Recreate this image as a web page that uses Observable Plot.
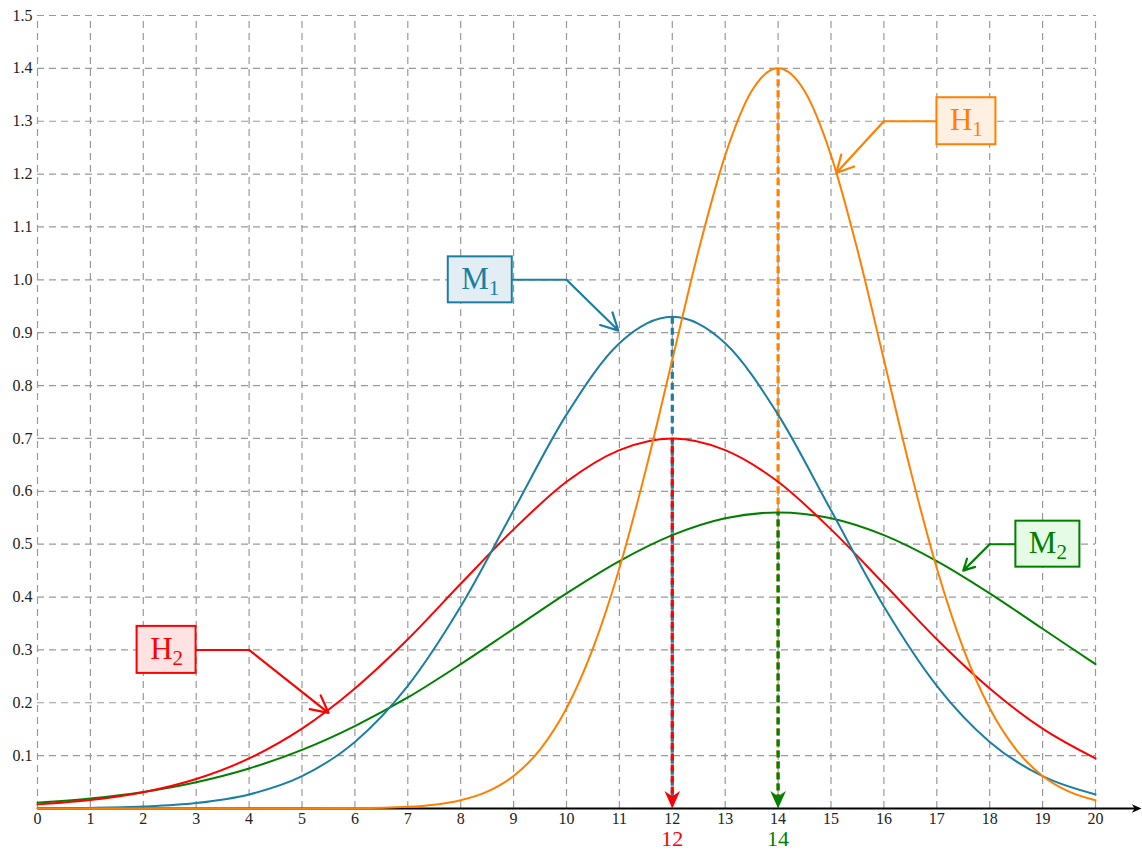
<!DOCTYPE html>
<html><head><meta charset="utf-8">
<script src="https://cdn.jsdelivr.net/npm/d3@7"></script>
<script src="https://cdn.jsdelivr.net/npm/@observablehq/plot@0.6"></script>
<style>body{margin:0;background:#fff}</style>
</head><body><div id="chart"></div>
<script>
// ---- data ----
const xs = [0,1,2,3,4,5,6,7,8,9,10,11,12,13,14,15,16,17,18,19,20];
const M1 = [0.0003,0.0011,0.0036,0.0103,0.0266,0.0611,0.126,0.232,0.382,0.564,0.745,0.880,0.930,0.880,0.745,0.564,0.382,0.232,0.126,0.0611,0.0266];
const H2 = [0.0078,0.016,0.0308,0.0557,0.0947,0.151,0.227,0.320,0.425,0.528,0.618,0.678,0.700,0.678,0.618,0.528,0.425,0.320,0.227,0.151,0.0947];
const M2 = [0.0111,0.0191,0.0314,0.0498,0.0758,0.111,0.156,0.210,0.273,0.340,0.407,0.468,0.517,0.549,0.560,0.549,0.517,0.468,0.407,0.340,0.273];
const H1x = [0,1,2,3,4,5,6,7,7.5,8,8.5,9,9.5,10,10.5,11,11.5,12,12.5,13,13.5,14,14.5,15,15.5,16,16.5,17,17.5,18,18.5,19,19.5,20];
const H1 = [0,0,0,0,0,0.0001,0.0005,0.0031,0.0071,0.0156,0.0319,0.0615,0.1114,0.1895,0.3028,0.4545,0.641,0.849,1.0567,1.2355,1.357,1.4,1.357,1.2355,1.0567,0.849,0.641,0.4545,0.3028,0.1895,0.1114,0.0615,0.0319,0.0156];
const xTicks = xs;
const yTicks = [0.1,0.2,0.3,0.4,0.5,0.6,0.7,0.8,0.9,1.0,1.1,1.2,1.3,1.4,1.5];
const seriesNames = ["M", "H", "M", "H"];
const seriesSubs = ["1", "1", "2", "2"];
// annotation anchors (label box centre, elbow, arrow tip)
const labelPos = [[8.37,1.0],[17.56,1.3],[19.1,0.5],[2.44,0.3]];
const elbowPos = [[10,1.0],[16,1.3],[18,0.5],[4,0.3]];
const tipPos = [[10.98,0.904],[15.1,1.202],[17.5,0.45],[5.5,0.181]];
const peaks = [{x:12, top:0.93, low:0.70, label:"12"}, {x:14, top:1.40, low:0.56, label:"14"}];
const axisEnd = 20.87;

// ---- styles ----
const BLUE = "#1a7fa2", ORANGE = "#ff8000", RED = "#ff0000", GREEN = "#008000";
const colors = [BLUE, ORANGE, GREEN, RED];
const fills = ["#e2eef3", "#fff0e2", "#e5fbe5", "#ffe3e3"];

// stealth-like arrowhead symbol, tip at the origin, pointing down
const stealth = {
  draw(ctx, size) {
    const s = Math.sqrt(size / Math.PI);
    ctx.moveTo(0, 0);
    ctx.lineTo(-1.2 * s, -2.7 * s);
    ctx.lineTo(0, -1.9 * s);
    ctx.lineTo(1.2 * s, -2.7 * s);
    ctx.closePath();
  }
};

const toRows = (X, Y) => X.map((x, i) => ({x, y: Y[i]}));
const labels = seriesNames.map((n, i) => ({
  name: n, sub: seriesSubs[i], x: labelPos[i][0], y: labelPos[i][1],
  color: colors[i], fill: fills[i]
}));
const legs = labels.map((l, i) => ({k: i, x1: l.x, y1: l.y, x2: elbowPos[i][0], y2: elbowPos[i][1]}));
const heads = labels.map((l, i) => ({k: i, x1: elbowPos[i][0], y1: elbowPos[i][1], x2: tipPos[i][0], y2: tipPos[i][1]}));

const dashV = "7,4";
const grid = {stroke: "#999", strokeWidth: 1.2, strokeDasharray: "7,5"};
const plot = Plot.plot({
  width: 1142, height: 855,
  marginLeft: 37, marginRight: 47, marginTop: 15, marginBottom: 47,
  x: {domain: [0, 20]},
  y: {domain: [0, 1.5]},
  style: {fontFamily: "'Liberation Serif', 'Times New Roman', serif", fontSize: "16px", background: "#fff"},
  marks: [
    Plot.ruleX(xTicks, {y1: 0, y2: 1.5, ...grid}),
    Plot.ruleY(yTicks, {x1: 0, x2: 20, ...grid}),
    Plot.axisX({ticks: xTicks, tickSize: 0, tickPadding: 4, fontSize: 16, tickFormat: d => String(d), color: "#222", label: null}),
    Plot.axisY({ticks: yTicks, tickSize: 0, tickPadding: 5, fontSize: 16, tickFormat: d => d.toFixed(1), color: "#222", label: null}),
    Plot.link([{a: 0, b: axisEnd - 0.1}], {x1: "a", x2: "b", y1: 0, y2: 0, stroke: "black", strokeWidth: 2}),
    Plot.dot([{a: axisEnd}], {x: "a", y: 0, symbol: stealth, r: 3.6, rotate: -90, fill: "black", stroke: "none"}),
    // peak drop lines
    Plot.link(peaks.slice(0,1), {x1: "x", x2: "x", y1: "top", y2: 0.01, stroke: BLUE, strokeWidth: 3.2, strokeDasharray: dashV}),
    Plot.link(peaks.slice(0,1), {x1: "x", x2: "x", y1: "low", y2: 0.02, stroke: RED, strokeWidth: 3.2, strokeDasharray: dashV, strokeDashoffset: 4}),
    Plot.link(peaks.slice(1), {x1: "x", x2: "x", y1: "top", y2: 0.01, stroke: ORANGE, strokeWidth: 3.2, strokeDasharray: dashV}),
    Plot.link(peaks.slice(1), {x1: "x", x2: "x", y1: "low", y2: 0.02, stroke: GREEN, strokeWidth: 3.2, strokeDasharray: dashV, strokeDashoffset: 4}),
    // curves
    Plot.line(toRows(xs, M2), {x: "x", y: "y", stroke: GREEN, strokeWidth: 2, curve: "monotone-x"}),
    Plot.line(toRows(xs, H2), {x: "x", y: "y", stroke: RED, strokeWidth: 2, curve: "monotone-x"}),
    Plot.line(toRows(xs, M1), {x: "x", y: "y", stroke: BLUE, strokeWidth: 2, curve: "monotone-x"}),
    Plot.line(toRows(H1x, H1), {x: "x", y: "y", stroke: ORANGE, strokeWidth: 2, curve: "monotone-x"}),
    Plot.dot(peaks, {x: "x", y: 0, symbol: stealth, r: 6.5, fill: d => d.x === 12 ? RED : GREEN, stroke: "none"}),
    // connectors
    Plot.link(legs, {x1: "x1", y1: "y1", x2: "x2", y2: "y2", stroke: d => colors[d.k], strokeWidth: 2}),
    Plot.arrow(heads, {x1: "x1", y1: "y1", x2: "x2", y2: "y2", stroke: d => colors[d.k], strokeWidth: 2.2, headLength: 13, headAngle: 55}),
    // label boxes
    Plot.rect(labels.filter(d => d.name === "M"), {x1: "x", x2: "x", y1: "y", y2: "y", insetLeft: -32, insetRight: -32, insetTop: -23, insetBottom: -23, fill: "fill", stroke: "color", strokeWidth: 2}),
    Plot.rect(labels.filter(d => d.name === "H"), {x1: "x", x2: "x", y1: "y", y2: "y", insetLeft: -29.5, insetRight: -29.5, insetTop: -23.5, insetBottom: -23.5, fill: "fill", stroke: "color", strokeWidth: 2}),
    Plot.text(labels, {x: "x", y: "y", text: "name", fill: "color", fontSize: 31, dy: -1,
      render: (index, scales, values, dimensions, context, next) => {
        const g = next(index, scales, values, dimensions, context);
        d3.select(g).selectAll("text").each(function(i) {
          d3.select(this).append("tspan").attr("font-size", 21).attr("dy", 6).text(labels[i].sub);
        });
        return g;
      }}),
    // coloured peak labels under the axis
    Plot.text(peaks, {x: "x", frameAnchor: "bottom", text: "label", dy: 37, fontSize: 22, fill: (d) => d.x === 12 ? RED : GREEN})
  ]
});
document.getElementById("chart").appendChild(plot);
</script>
</body></html>
